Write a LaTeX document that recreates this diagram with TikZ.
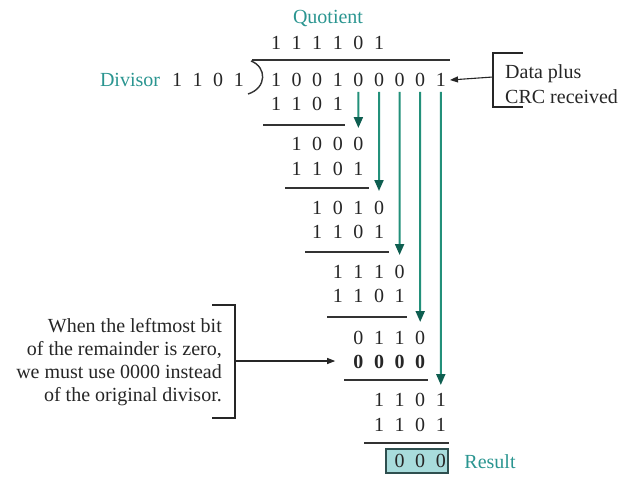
\documentclass[tikz,border=0pt]{standalone}
\usepackage{fontspec}
\setmainfont{Liberation Serif}
\usetikzlibrary{arrows.meta}

\definecolor{tealtext}{HTML}{2A9590}
\definecolor{flow}{HTML}{23907A}
\definecolor{flowtip}{HTML}{0E5E50}
\definecolor{boxfill}{HTML}{A8DCDC}
\definecolor{boxedge}{HTML}{2F4F4F}
\definecolor{rule}{HTML}{333333}

% one row of bits: name, y, first column, digits, extra font switch
\newcommand\bitrow[5]{%
  \foreach \d [count=\i from 0] in {#4} {
    \pgfmathsetmacro\xx{276+20.6*(#3+\i)}
    \pgfmathtruncatemacro\cc{#3+\i}
    \node[digit] (#1-\cc) at (\xx,#2) {#5\d};
  }}

\begin{document}
\begin{tikzpicture}[x=1pt,y=-1pt,
  every node/.style={inner sep=0pt, font=\fontsize{20}{23}\selectfont},
  digit/.style={anchor=center, text=black!85},
  tealabel/.style={text=tealtext},
  note/.style={text=black!85},
  subline/.style={draw=rule, line width=1.1pt},
  flowarrow/.style={draw=flow, line width=2pt,
    -{Triangle[length=11pt,width=9pt,color=flowtip]}},
  callout/.style={draw=black!85, line width=1.1pt},
  pointer/.style={draw=black!85, line width=1.1pt,
    -{Triangle[length=8pt,width=6pt]}}
]
\useasboundingbox (0,0) rectangle (622,477);

% quotient
\node[tealabel] (qlabel) at (328,18) {Quotient};
\bitrow{q}{43}{0}{1,1,1,1,0,1}{}

% divisor and division bracket
\node[tealabel] (dlabel) at (130,80) {Divisor};
\foreach \d [count=\i from 0] in {1,1,0,1} {
  \node[digit] (dv-\i) at (177+20.6*\i,80) {\d};
}
\draw[rule, line width=1.1pt] (252,60) -- (450,60);
\draw[rule, line width=1.4pt] (251,61) .. controls (267,67) and (267,88) .. (248,94);

% long division rows
\bitrow{r1}{80}{0}{1,0,0,1,0,0,0,0,1}{}
\bitrow{r2}{104}{0}{1,1,0,1}{}
\draw[subline] (263,125) -- (345,125);
\bitrow{r3}{144}{1}{1,0,0,0}{}
\bitrow{r4}{169}{1}{1,1,0,1}{}
\draw[subline] (285,188) -- (369,188);
\bitrow{r5}{208}{2}{1,0,1,0}{}
\bitrow{r6}{232}{2}{1,1,0,1}{}
\draw[subline] (305,252) -- (389,252);
\bitrow{r7}{272}{3}{1,1,1,0}{}
\bitrow{r8}{296}{3}{1,1,0,1}{}
\draw[subline] (327,317) -- (407,317);
\bitrow{r9}{338}{4}{0,1,1,0}{}
\bitrow{r10}{362}{4}{0,0,0,0}{\bfseries}
\draw[subline] (344,380) -- (428,380);
\bitrow{r11}{400}{5}{1,1,0,1}{}
\bitrow{r12}{425}{5}{1,1,0,1}{}
\draw[subline] (364,443) -- (449,443);

% remainder
\fill[boxfill] (386,449) rectangle (448,473);
\draw[boxedge, line width=1.2pt] (386,449) rectangle (448,473);
\bitrow{r13}{461}{6}{0,0,0}{}
\node[tealabel] (result) at (490,462) {Result};

% bits brought down
\coordinate (tip4) at (358.4,128);
\coordinate (tip5) at (379.0,191);
\coordinate (tip6) at (399.6,255);
\coordinate (tip7) at (420.2,322);
\coordinate (tip8) at (440.8,385);
\foreach \k in {4,...,8} {
  \draw[flowarrow] ([yshift=-5pt]r1-\k.south) -- (tip\k);
}

% callout on the right
\node[note, anchor=base west] (dp1) at (505,78) {Data plus};
\node[note, anchor=base west] (dp2) at (505,103) {CRC received};
\draw[callout] (523,53) -- (493,53) -- (493,107) -- (523,107);
\coordinate (rc) at (493,77);
\draw[pointer] (rc) -- ([xshift=4pt]r1-8.east);

% callout on the left
\node[note, anchor=base east] (n1) at (222,332) {When the leftmost bit};
\node[note, anchor=base east] (n2) at (222,355) {of the remainder is zero,};
\node[note, anchor=base east] (n3) at (222,378) {we must use 0000 instead};
\node[note, anchor=base east] (n4) at (222,401) {of the original divisor.};
\draw[callout] (212,305) -- (235,305) -- (235,418) -- (212,418);
\coordinate (lc) at (235,361);
\draw[pointer] (lc) -- ([xshift=-18pt]r10-4.west |- lc);
\end{tikzpicture}
\end{document}
